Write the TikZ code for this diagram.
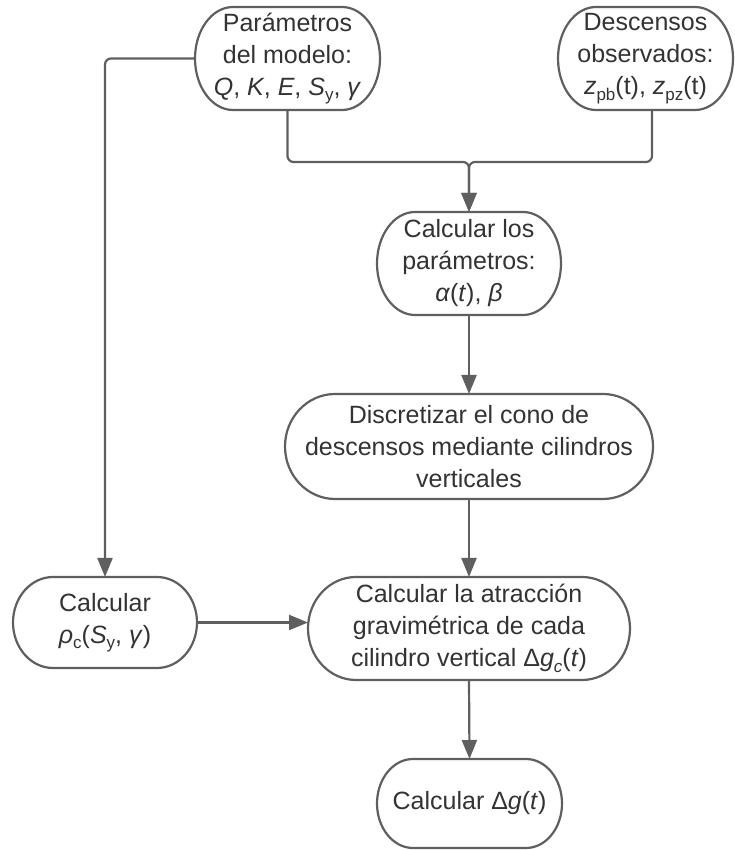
\documentclass[tikz,border=0pt]{standalone}
\usepackage{fontspec}
\setmainfont{Liberation Sans}
\usetikzlibrary{arrows.meta,calc}
\definecolor{linegray}{HTML}{5F5F5F}
\definecolor{textgray}{HTML}{333333}
\newcommand{\sbs}[1]{\raisebox{-0.22em}{\fontsize{17}{17}\selectfont #1}}
\newcommand{\termshape}[3]{%
  \draw[shapeline] ([xshift=#2pt]#1.north west) -- ([xshift=-#2pt]#1.north east)
    arc[start angle=90,end angle=-90,x radius=#2pt,y radius=#3pt]
    -- ([xshift=#2pt]#1.south west)
    arc[start angle=270,end angle=90,x radius=#2pt,y radius=#3pt] -- cycle;}
\begin{document}
\begin{tikzpicture}[x=1pt,y=1pt,
  box/.style={inner sep=0pt,outer sep=0pt,align=center,text=textgray,
    font=\fontsize{25}{32}\selectfont},
  shapeline/.style={draw=linegray,line width=2.2pt,fill=white},
  conn/.style={draw=linegray,line width=2.2pt},
  arr/.style={conn,-{Triangle[length=19pt,width=15pt]}}]
\useasboundingbox (0,0) rectangle (734,850);

\node[box,minimum width=185pt,minimum height=103pt] (n1) at (287.5,791.5) {};
\node[box,minimum width=175pt,minimum height=103pt] (n2) at (645.5,791.5) {};
\node[box,minimum width=184pt,minimum height=103pt] (n3) at (469,586.5) {};
\node[box,minimum width=368pt,minimum height=105pt] (n4) at (469,403.5) {};
\node[box,minimum width=322pt,minimum height=103pt] (n5) at (469,221.5) {};
\node[box,minimum width=184pt,minimum height=91pt] (rho) at (105,227.5) {};
\node[box,minimum width=185pt,minimum height=89pt] (n6) at (469.5,46.5) {};

\coordinate (jn) at (469,688);
\coordinate (n2b) at ([xshift=6.5pt]n2.south);

% connectors
\draw[arr,rounded corners=6pt] (n1.west) -| (rho.north);
\draw[arr,rounded corners=6pt] (n1.south) |- (jn) -- (n3.north);
\draw[arr,rounded corners=6pt] (n2b) |- (jn) -- (n3.north);
\draw[arr] (n3.south) -- (n4.north);
\draw[arr] (n4.south) -- (n5.north);
\draw[arr] (rho.east) -- (rho.east -| n5.west);
\draw[arr] (n5.south) -- (n6.north);

% shapes
\termshape{n1}{38}{51.5}
\termshape{n2}{38}{51.5}
\termshape{n3}{38}{51.5}
\termshape{n4}{50}{52.5}
\termshape{n5}{48}{51.5}
\termshape{rho}{40}{45.5}
\termshape{n6}{36}{44.5}

% texts
\node[box] at (n1) {Parámetros\\del modelo:\\\textit{Q}, \textit{K}, \textit{E}, \textit{S}\sbs{y}, \textit{γ}};
\node[box] at (n2) {Descensos\\observados:\\\textit{z}\sbs{pb}(t), \textit{z}\sbs{pz}(t)};
\node[box] at (n3) {Calcular los\\parámetros:\\\textit{α}(\textit{t}), \textit{β}};
\node[box] at (n4) {Discretizar el cono de\\descensos mediante cilindros\\verticales};
\node[box] at (n5) {Calcular la atracción\\gravimétrica de cada\\cilindro vertical Δ\textit{g}\sbs{\textit{c}}(\textit{t})};
\node[box] at (rho) {Calcular\\\textit{ρ}\sbs{c}(\textit{S}\sbs{y}, \textit{γ})};
\node[box] at (n6) {Calcular Δ\textit{g}(\textit{t})};
\end{tikzpicture}
\end{document}
